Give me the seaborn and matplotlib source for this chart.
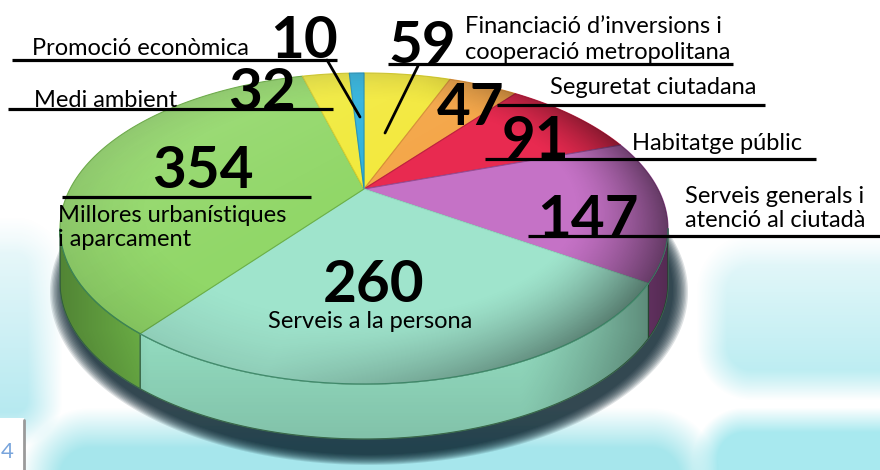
import numpy as np
import matplotlib
matplotlib.use("Agg")
import matplotlib.pyplot as plt
import seaborn as sns
from matplotlib.patches import Polygon, Rectangle

# ---------------- data ----------------
categories = ["Financiació d’inversions i\ncooperació metropolitana",
              "Seguretat ciutadana",
              "Habitatge públic",
              "Serveis generals i\natenció al ciutadà",
              "Serveis a la persona",
              "Millores urbanístiques\ni aparcament",
              "Medi ambient",
              "Promoció econòmica"]
values = [59, 47, 91, 147, 260, 354, 32, 10]
top_colors = ["#f3e93e", "#f4a74a", "#e82a50", "#c572c6",
              "#9fe4cc", "#91d768", "#f1ea3c", "#2fb2dc"]
side_colors = ["#d8cf30", "#d98e38", "#c01f40", "#974c94",
               "#93dcc0", "#6cb046", "#d6cf2e", "#2293bb"]

sns.set_theme(style="white")
plt.rcParams['font.family'] = ['Lato', 'DejaVu Sans']

W, H = 880, 470
fig = plt.figure(figsize=(8.8, 4.7), dpi=100)
ax = fig.add_axes([0, 0, 1, 1])
ax.set_xlim(0, W)
ax.set_ylim(H, 0)
ax.axis("off")

# ---------------- background tiles ----------------
yy, xx = np.mgrid[0:H, 0:W] + 0.5
bg = np.ones((H, W, 3))


def soft_rrect(x0, x1, y0, y1, r, blur):
    cx, cy = (x0 + x1) / 2, (y0 + y1) / 2
    hx, hy = (x1 - x0) / 2 - r, (y1 - y0) / 2 - r
    dx = np.maximum(np.abs(xx - cx) - hx, 0)
    dy = np.maximum(np.abs(yy - cy) - hy, 0)
    d = np.sqrt(dx ** 2 + dy ** 2) - r
    return np.clip(0.5 - d / blur, 0, 1)


def hexrgb(h):
    return np.array(matplotlib.colors.to_rgb(h))


def paint(mask, col):
    global bg
    col = np.asarray(col)
    if col.ndim == 1:
        col = col[None, None, :]
    bg = bg * (1 - mask[..., None]) + col * mask[..., None]


t = np.clip((yy - 245) / 140, 0, 1)[..., None]
grad = hexrgb("#e8f8fa") * (1 - t) + hexrgb("#b8ecf1") * t
paint(soft_rrect(712, 960, 250, 385, 40, 30), grad)
paint(soft_rrect(705, 960, 420, 560, 40, 25), hexrgb("#a8e9ef"))
paint(soft_rrect(40, 700, 428, 560, 50, 40), hexrgb("#a6e6ec"))
t2 = np.clip((yy - 240) / 180, 0, 1)[..., None]
grad2 = hexrgb("#eaf8fa") * (1 - t2) + hexrgb("#b4e9f0") * t2
paint(soft_rrect(-80, 45, 235, 430, 30, 35), grad2)
ax.imshow(bg, extent=[0, W, H, 0], zorder=0, interpolation="bilinear")

# ---------------- perspective pie ----------------
CX, CY, KX, KY, P, DEPTH = 364.0, 189.0, 294.0, 145.5, 0.254, 55.0


def proj(phi_deg, z=0.0, r=1.0):
    ph = np.radians(phi_deg)
    X, Y = r * np.cos(ph), r * np.sin(ph)
    w = 1 + P * Y
    return np.column_stack([CX + KX * X / w, CY - KY * Y / w + z])


total = float(sum(values))
cum = np.concatenate([[0], np.cumsum(values)])
starts = 90 - cum[:-1] / total * 360
ends = 90 - cum[1:] / total * 360
vis_lo, vis_hi = 180 + np.degrees(np.arcsin(P)), 360 - np.degrees(np.arcsin(P))

# soft shadow (from the bottom ellipse, slightly offset and grown)
full = np.linspace(0, 360, 361)
for k in range(12):
    s = 1.0 + 0.0045 * k
    pts = proj(full, DEPTH)
    pts = (pts - [CX, CY + DEPTH]) * [s, s * 1.06] + [CX + 5, CY + DEPTH + 4]
    ax.add_patch(Polygon(pts, closed=True, fc="#06202c", ec="none",
                         alpha=0.13, zorder=1))

for i, v in enumerate(values):
    a0, a1 = starts[i], ends[i]
    phis = np.linspace(a0, a1, 300)
    arc = proj(phis)
    poly = np.vstack([[CX, CY], arc])
    ax.add_patch(Polygon(poly, closed=True, fc=top_colors[i],
                         ec=side_colors[i], lw=0.8, zorder=3))
    m = np.mod(phis, 360)
    keep = (m >= vis_lo) & (m <= vis_hi)
    if keep.any():
        ph = phis[keep]
        up = proj(ph)
        dn = proj(ph, DEPTH)
        spoly = np.vstack([up, dn[::-1]])
        ax.add_patch(Polygon(spoly, closed=True, fc=side_colors[i],
                             ec="#3d6e4e", lw=0.9, zorder=2))

# seam line along the front of the top face
seam = proj(np.linspace(vis_lo, vis_hi, 200))
ax.plot(seam[:, 0], seam[:, 1], color="#2f7a5a", lw=0.9, alpha=0.8, zorder=4)

# shading overlays
a = (xx - CX) / KX
b = (CY - yy) / KY
Yd = b / (1 - P * b)
Xd = a * (1 + P * Yd)
rr = np.sqrt(Xd ** 2 + Yd ** 2)
ang = np.arctan2(Yd, Xd)
rim = np.clip((rr - 0.7) / 0.3, 0, 1) ** 1.5
dark_dir = np.clip(np.cos(ang + np.radians(15)), 0, 1)
light_dir = np.clip(np.cos(ang - np.radians(140)), 0, 1)
shade = np.zeros((H, W, 4))
shade[..., 3] = 0.40 * rim * dark_dir + 0.10 * rim
light = np.ones((H, W, 4))
light[..., 3] = 0.12 * light_dir * np.clip(rr, 0, 1)
top_outline = proj(full)
clip_top = Polygon(top_outline, closed=True, transform=ax.transData)
for img in (shade, light):
    im = ax.imshow(img, extent=[0, W, H, 0], zorder=3.5, interpolation="bilinear")
    im.set_clip_path(clip_top)

side_shade = np.zeros((H, W, 4))
sx = np.clip((xx - 520) / 150, 0, 1)
sl = np.clip((150 - xx) / 90, 0, 1)
side_shade[..., 3] = 0.45 * sx ** 1.3 + 0.25 * sl + 0.12 * np.clip((yy - 330) / 110, 0, 1)
sil = np.vstack([proj(np.linspace(vis_lo, vis_hi, 200)),
                 proj(np.linspace(vis_hi, vis_lo, 200), DEPTH)])
clip_side = Polygon(sil, closed=True, transform=ax.transData)
im = ax.imshow(side_shade, extent=[0, W, H, 0], zorder=2.5, interpolation="bilinear")
im.set_clip_path(clip_side)

# ---------------- labels ----------------
LW = 2.3
NUM = dict(fontsize=42, fontweight="bold", color="black", zorder=6,
           va="baseline", family=["Lato", "DejaVu Sans"])
LAB = dict(fontsize=17, color="black", zorder=6, va="baseline",
           family=["Lato", "DejaVu Sans"])


def hline(y, x0, x1):
    ax.plot([x0, x1], [y, y], color="black", lw=LW, zorder=6,
            solid_capstyle="butt")


# Promoció econòmica (10)
ax.text(32, 55, categories[7], **LAB)
ax.text(270, 58, str(values[7]), **NUM)
hline(60, 12, 337)
ax.plot([327, 360], [60, 117], color="black", lw=2.0, zorder=6)
# Medi ambient (32)
ax.text(34, 107, categories[6], **LAB)
ax.text(228, 110, str(values[6]), **NUM)
hline(109, 8, 333)
# Millores (354)
ax.text(152, 188, str(values[5]), **NUM)
hline(197, 62, 311)
ax.text(58, 222, categories[5].split("\n")[0], **LAB)
ax.text(58, 246, categories[5].split("\n")[1], **LAB)
# Financiació (59)
ax.text(388, 63, str(values[0]), **NUM)
hline(64, 388, 733)
ax.text(465, 33, categories[0].split("\n")[0], **LAB)
ax.text(465, 59, categories[0].split("\n")[1], **LAB)
ax.plot([418, 385], [66, 133], color="black", lw=2.0, zorder=6)
# Seguretat (47)
ax.text(437, 125, str(values[1]), **NUM)
ax.text(550, 94, categories[1], **LAB)
hline(105, 497, 765)
# Habitatge (91)
ax.text(502, 158, str(values[2]), **NUM)
ax.text(632, 150, categories[2], **LAB)
hline(159, 485, 816)
# Serveis generals (147)
ax.text(537, 237, str(values[3]), **NUM)
ax.text(685, 203, categories[3].split("\n")[0], **LAB)
ax.text(685, 227, categories[3].split("\n")[1], **LAB)
hline(236, 528, 880)
# Serveis a la persona (260)
ax.text(323, 302, str(values[4]), **NUM)
ax.text(268, 328, categories[4], **LAB)

# page corner box
ax.add_patch(Rectangle((0, 418), 24, 52, fc="white", ec="none", zorder=6))
ax.plot([24, 24], [420, 470], color="#9a9a9a", lw=2, zorder=6)
ax.text(1, 458, "4", fontsize=16, color="#79a5dc", zorder=7, va="baseline")

fig.savefig("out.png", dpi=100)
